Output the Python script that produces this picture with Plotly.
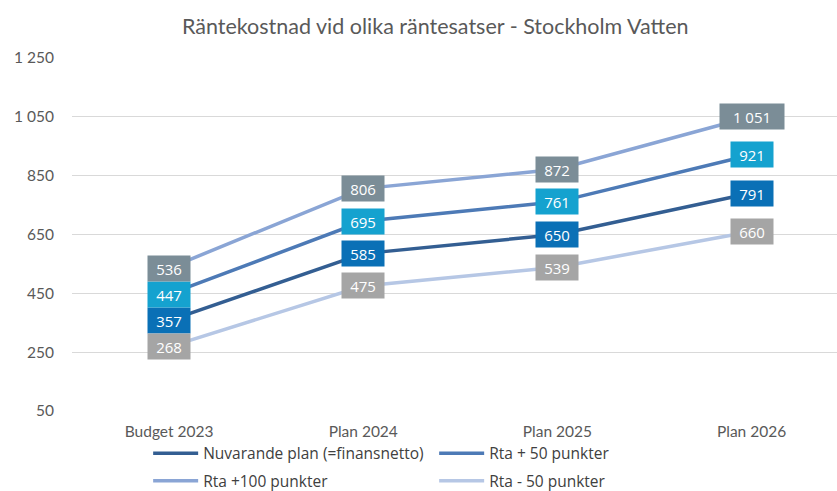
import plotly.graph_objects as go

# category labels and series values
categories = ["Budget 2023", "Plan 2024", "Plan 2025", "Plan 2026"]
nuvarande = [357, 585, 650, 791]
rta_plus50 = [447, 695, 761, 921]
rta_plus100 = [536, 806, 872, 1051]
rta_minus50 = [268, 475, 539, 660]

y_ticks = [50, 250, 450, 650, 850, 1050, 1250]

series = [
    # name, values, line colour, label box colour, legend
    ("Nuvarande plan (=finansnetto)", nuvarande, "#335e92", "#0a70b6", "legend"),
    ("Rta + 50 punkter", rta_plus50, "#4d7ab6", "#15a2cf", "legend"),
    ("Rta +100 punkter", rta_plus100, "#8aa5d5", "#7b8d97", "legend2"),
    ("Rta - 50 punkter", rta_minus50, "#b6c7e5", "#a5a5a5", "legend2"),
]


def fmt(v):
    return f"{v:,}".replace(",", " ")


fig = go.Figure()
annotations = []
for name, vals, line_col, box_col, leg in series:
    fig.add_trace(go.Scatter(
        x=categories, y=vals, name=name, mode="lines",
        line=dict(color=line_col, width=3.5),
        legend=leg, hoverinfo="skip",
    ))
    for c, v in zip(categories, vals):
        txt = fmt(v)
        annotations.append(dict(
            x=c, y=v, text=txt, showarrow=False,
            font=dict(family="Open Sans", size=15, color="white"),
            bgcolor=box_col, width=11 * len(txt) + 3, height=19, borderpad=3,
            xanchor="center", yanchor="middle",
        ))

leg_style = dict(orientation="h", xref="container", yref="container",
                 xanchor="left", yanchor="middle",
                 itemwidth=45, entrywidth=226, entrywidthmode="pixels",
                 font=dict(family="Open Sans", size=15.5, color="#404040"),
                 bgcolor="rgba(0,0,0,0)")

fig.update_layout(
    width=837, height=491,
    margin=dict(l=72, r=0, t=58, b=80, autoexpand=False),
    paper_bgcolor="white", plot_bgcolor="white",
    title=dict(text="Räntekostnad vid olika räntesatser - Stockholm Vatten",
               x=0.52, xanchor="center", y=0.946, yanchor="middle",
               font=dict(family="Lato", size=21.5, color="#595959")),
    font=dict(family="Lato", color="#595959"),
    xaxis=dict(range=[-0.5, 3.44], showgrid=False, showline=False,
               zeroline=False, ticks="", ticklabelstandoff=9,
               tickfont=dict(size=15.5, color="#595959")),
    yaxis=dict(range=[50, 1250], tickvals=y_ticks,
               ticktext=[fmt(t) for t in y_ticks],
               showgrid=True, gridcolor="#d9d9d9", gridwidth=1,
               zeroline=False, showline=False, ticks="",
               ticklabelstandoff=17,
               tickfont=dict(size=15.5, color="#595959")),
    legend=dict(leg_style, x=0.177, y=0.076),
    legend2=dict(leg_style, x=0.177, y=0.02),
    annotations=annotations,
)

# drop the browser's default page margin so the figure sits at the corner
fig.write_html("out.html", config={"displayModeBar": False},
               post_script="document.body.style.margin='0';")
